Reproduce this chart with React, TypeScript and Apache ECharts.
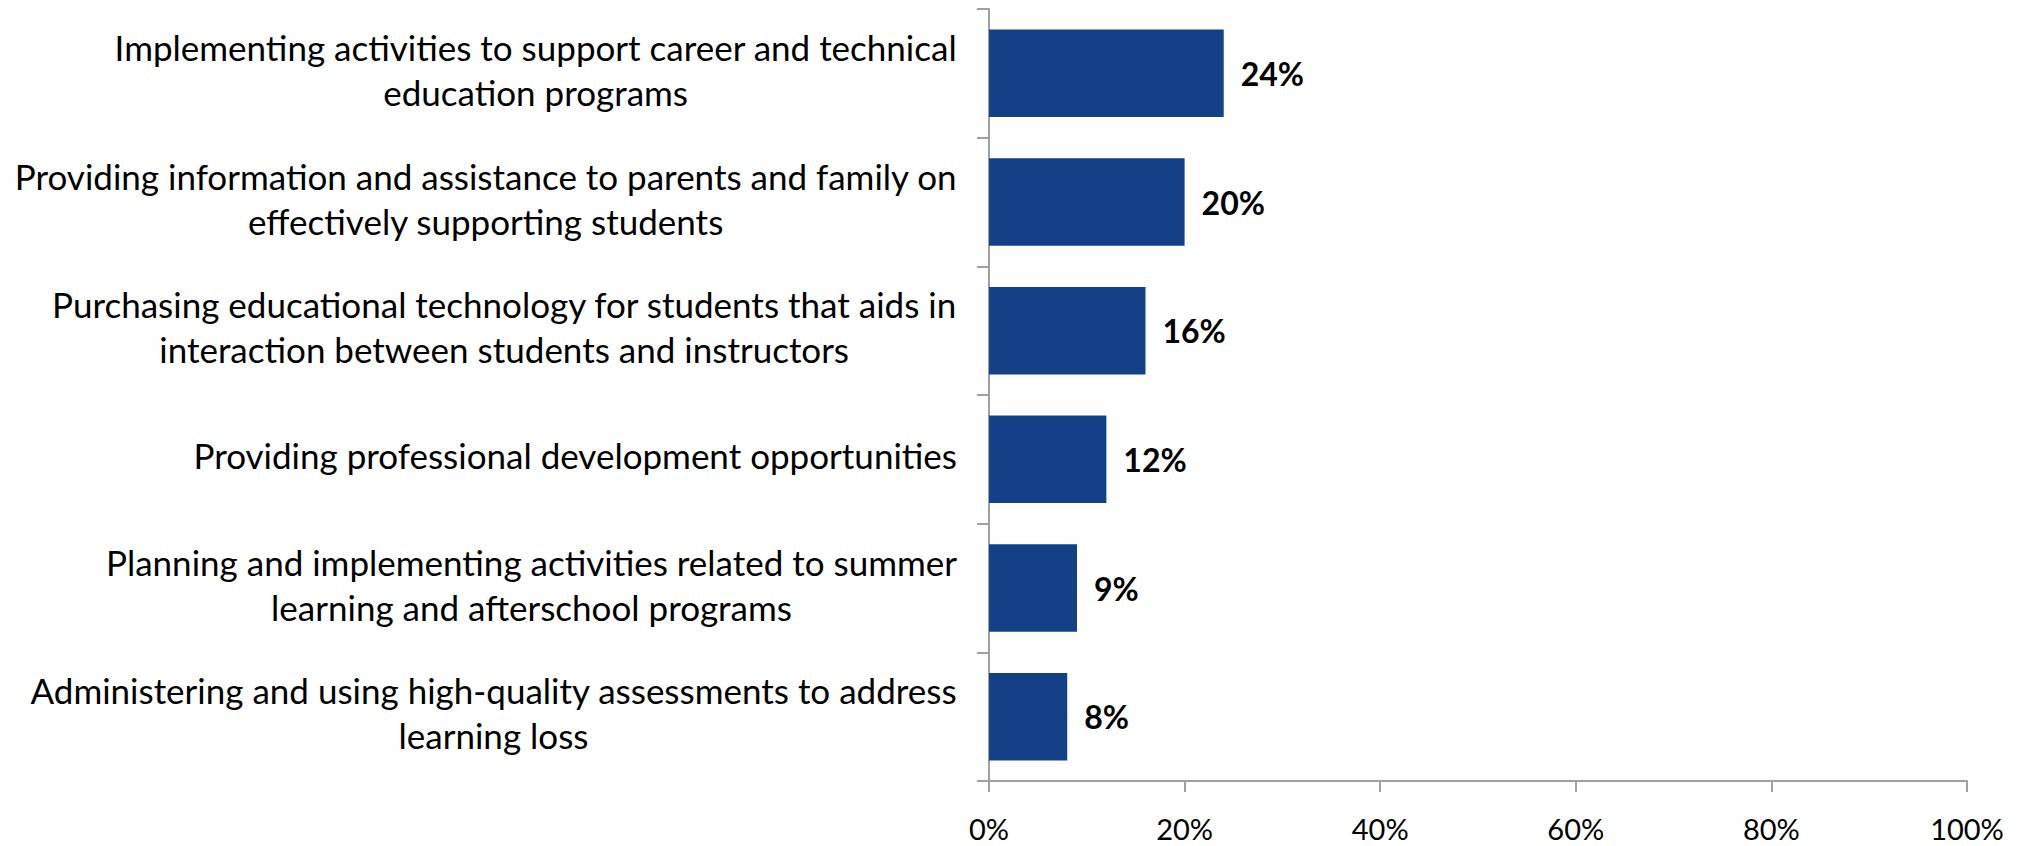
import React, { useEffect, useRef } from "react";
import * as echarts from "echarts";

const categories: string[] = [
  "Implementing activities to support career and technical\neducation programs",
  "Providing information and assistance to parents and family on\neffectively supporting students",
  "Purchasing educational technology for students that aids in\ninteraction between students and instructors",
  "Providing professional development opportunities",
  "Planning and implementing activities related to summer\nlearning and afterschool programs",
  "Administering and using high-quality assessments to address\nlearning loss",
];
const values: number[] = [24, 20, 16, 12, 9, 8];
const xTicks: number[] = [0, 20, 40, 60, 80, 100];

export default function App() {
  const ref = useRef<HTMLDivElement>(null);
  useEffect(() => {
    if (!ref.current) return;
    const chart = echarts.init(ref.current, null, { renderer: "svg" });
    const font = "Lato, 'Open Sans', sans-serif";
    chart.setOption({
      animation: false,
      grid: { left: 981, right: 53, top: 1, bottom: 65 },
      xAxis: {
        type: "value",
        min: 0,
        max: 100,
        interval: 20,
        splitLine: { show: false },
        axisLine: { show: true, lineStyle: { color: "#A0A0A0", width: 2 } },
        axisTick: { show: true, length: 11, lineStyle: { color: "#A0A0A0", width: 2 } },
        axisLabel: {
          margin: 33,
          color: "#000",
          fontFamily: font,
          fontSize: 29,
          formatter: (v: number) => (xTicks.includes(v) ? v + "%" : ""),
        },
      },
      yAxis: {
        type: "category",
        inverse: true,
        data: categories,
        axisLine: { show: true, lineStyle: { color: "#A0A0A0", width: 2 } },
        axisTick: { show: true, length: 12, lineStyle: { color: "#A0A0A0", width: 2 } },
        axisLabel: {
          margin: 32,
          color: "#000",
          fontFamily: font,
          fontSize: 35,
          lineHeight: 45,
          align: "right",
          padding: [0, 0, 8, 0],
          formatter: (v: string) =>
            v
              .split("\n")
              .map((l) => "{c|" + l + "}")
              .join("\n"),
          rich: {
            c: {
              align: "center",
              fontFamily: font,
              fontSize: 35,
              lineHeight: 45,
              color: "#000",
            },
          },
        },
      },
      series: [
        {
          type: "bar",
          data: values,
          barCategoryGap: "32%",
          itemStyle: { color: "#134087" },
          label: {
            show: true,
            position: "right",
            distance: 17,
            color: "#000",
            fontFamily: font,
            fontWeight: "bold",
            fontSize: 32,
            formatter: (p: any) => p.value + "%",
          },
        },
      ],
    });
    return () => chart.dispose();
  }, []);
  return <div ref={ref} style={{ width: 2012, height: 838 }} />;
}
